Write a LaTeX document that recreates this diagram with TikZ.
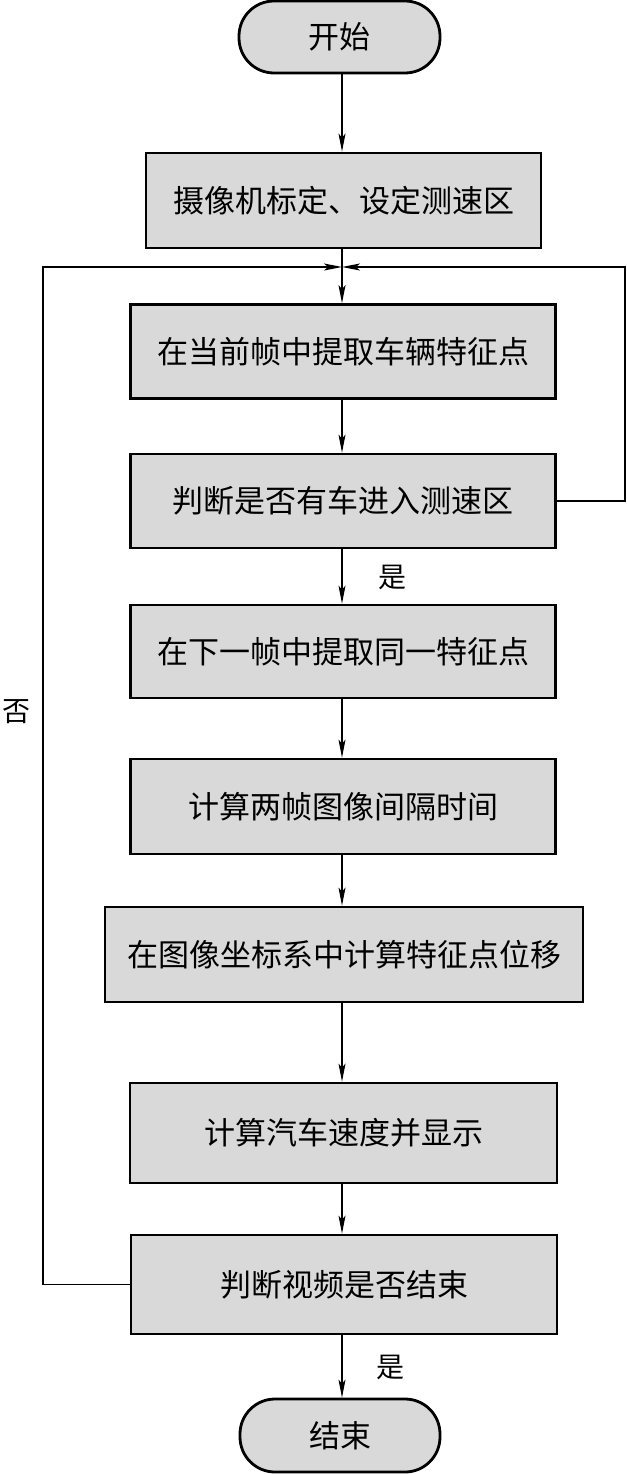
\documentclass[tikz,border=0pt]{standalone}
\usepackage{fontspec}
\newfontfamily\cjk{Noto Sans CJK SC}
\usetikzlibrary{arrows.meta}
\begin{document}
\begin{tikzpicture}[x=1pt,y=-1pt,
  box/.style={draw, line width=2.8pt, fill=black!15, inner sep=0pt, font=\cjk\fontsize{31pt}{36pt}\selectfont},
  term/.style={box, rounded corners=35pt},
  arr/.style={line width=1.2pt, -{Stealth[length=18pt,width=7pt,inset=4pt]}},
  lin/.style={line width=1.2pt},
  lbl/.style={font=\cjk\fontsize{28pt}{32pt}\selectfont, inner sep=0pt}]
\useasboundingbox (0,0) rectangle (626,1474);
\node[term, minimum width=201pt, minimum height=72pt] (start) at (339.5,37) {开始};
\node[box, minimum width=395pt, minimum height=95pt] (b1) at (343.5,200.5) {摄像机标定、设定测速区};
\node[box, minimum width=425pt, minimum height=94pt] (b2) at (343,351.5) {在当前帧中提取车辆特征点};
\node[box, minimum width=425pt, minimum height=94pt] (b3) at (343,501) {判断是否有车进入测速区};
\node[box, minimum width=425pt, minimum height=93pt] (b4) at (343,651.5) {在下一帧中提取同一特征点};
\node[box, minimum width=425pt, minimum height=95pt] (b5) at (343,806.5) {计算两帧图像间隔时间};
\node[box, minimum width=478pt, minimum height=95pt] (b6) at (344,954.5) {在图像坐标系中计算特征点位移};
\node[box, minimum width=427pt, minimum height=100pt] (b7) at (343.5,1133) {计算汽车速度并显示};
\node[box, minimum width=426pt, minimum height=99pt] (b8) at (344,1284.5) {判断视频是否结束};
\node[term, minimum width=200pt, minimum height=73pt] (end) at (340,1435.5) {结束};
\coordinate (j) at (342,267);
\coordinate (L) at (43,0);
\coordinate (R) at (625,0);
\node[lbl] (yes1) at (392,577) {是};
\node[lbl] (yes2) at (390,1367) {是};
\node[lbl] (no) at (16,712) {否};
\draw[arr] (start.south -| j) -- (b1.north -| j);
\draw[lin] (b1.south -| j) -- (j);
\draw[arr] (j) -- (b2.north -| j);
\draw[arr] (b2.south -| j) -- (b3.north -| j);
\draw[arr] (b3.south -| j) -- (b4.north -| j);
\draw[arr] (b4.south -| j) -- (b5.north -| j);
\draw[arr] (b5.south -| j) -- (b6.north -| j);
\draw[arr] (b6.south -| j) -- (b7.north -| j);
\draw[arr] (b7.south -| j) -- (b8.north -| j);
\draw[arr] (b8.south -| j) -- (end.north -| j);
\draw[arr] (b8.west) -- (b8.west -| L) |- (j);
\draw[arr] (b3.east) -- (b3.east -| R) |- (j);
\end{tikzpicture}
\end{document}
